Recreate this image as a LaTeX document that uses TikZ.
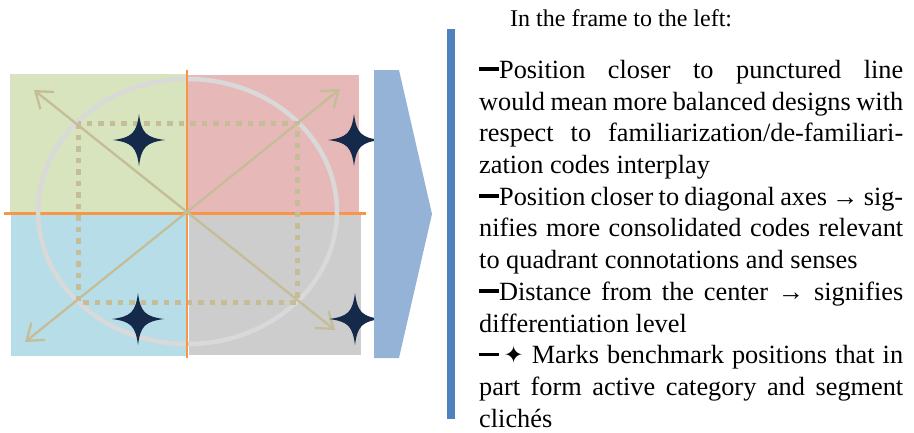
\documentclass[tikz,border=0pt]{standalone}
\usepackage{fontspec}
\setmainfont{Liberation Serif}
\newfontfamily\starfont{DejaVu Sans}
\usetikzlibrary{arrows.meta}
\definecolor{qgreen}{HTML}{D7E4BD}
\definecolor{qred}{HTML}{E6B9B8}
\definecolor{qblue}{HTML}{B7DEE8}
\definecolor{qgray}{HTML}{CDCDCD}
\definecolor{axisc}{HTML}{F79646}
\definecolor{ringc}{HTML}{D9D9D9}
\definecolor{tanc}{HTML}{C4BD97}
\definecolor{starc}{HTML}{15294A}
\definecolor{chevc}{HTML}{95B3D7}
\definecolor{barc}{HTML}{4F81BD}
\tikzset{
  haxis/.style={draw=axisc,line width=3pt},
  vaxis/.style={draw=axisc,line width=2pt},
  ring/.style={draw=ringc,line width=4.5pt},
  frame/.style={draw=tanc,line width=5pt,dash pattern=on 5.5pt off 6pt},
  diag/.style={draw=tanc,line width=2.3pt,<->,>={Straight Barb[length=15pt,width=22pt]}},
  head/.style={anchor=base west,inner sep=0,font=\fontsize{24}{28}\selectfont},
  notes/.style={anchor=north west,inner sep=0,font=\fontsize{26.3}{31.7}\selectfont},
}
\newcommand{\benchstar}[1]{\fill[starc,shift={#1}] (26,0) .. controls (7,2.5) and (2.5,7) .. (0,26) .. controls (-2.5,7) and (-7,2.5) .. (-26,0) .. controls (-7,-2.5) and (-2.5,-7) .. (0,-26) .. controls (2.5,-7) and (7,-2.5) .. cycle;}
\newcommand{\dashmark}{\rule[0.29em]{0.76em}{0.13em}}
\newcommand{\jl}[1]{\makebox[424pt][s]{#1}}

\begin{document}
\begin{tikzpicture}[x=1pt,y=-1pt]
  \useasboundingbox (0,0) rectangle (914,432);
  % quadrants
  \fill[qgreen] (10,74) rectangle (187,212);
  \fill[qred] (188,75) rectangle (359,212);
  \fill[qblue] (11,214) rectangle (187,356);
  \fill[qgray] (189,214) rectangle (361,355);
  \coordinate (w) at (4,213);
  \coordinate (e) at (366,213);
  \coordinate (n) at (187,70);
  \coordinate (s) at (187,358);
  \draw[haxis] (w) -- (e);
  \draw[ring] (187.5,211.5) ellipse [x radius=149.5, y radius=132.5];
  \draw[frame] (78,123) rectangle (297,302);
  \draw[vaxis] (n) -- (s);
  % diagonal axes
  \coordinate (ul) at (34,90);
  \coordinate (lr) at (335,330);
  \coordinate (ur) at (340,89);
  \coordinate (ll) at (25,342);
  \draw[diag] (ul) -- (lr);
  \draw[diag] (ur) -- (ll);
  % benchmark stars
  \foreach \p in {(139,140),(354,140),(138,319),(355,319)} \benchstar{\p};
  \fill[chevc] (374,70) -- (399,70) -- (432,214) -- (399,358) -- (374,358) -- cycle;
  \fill[barc] (447,29) rectangle (455,419);
  \node[head] (head) at (510,26) {In the frame to the left:};
  \node[notes] (notes) at (479,60) {\parbox[t]{424pt}{%
\jl{\dashmark Position closer to punctured line}\\
\jl{would mean more balanced designs with}\\
\jl{respect to familiarization/de-familiari-}\\
zation codes interplay\\
\jl{\dashmark Position closer to diagonal axes → sig-}\\
\jl{nifies more consolidated codes relevant}\\
to quadrant connotations and senses\\
\jl{\dashmark Distance from the center → signifies}\\
differentiation level\\
\jl{\dashmark\,{\starfont\fontsize{24}{24}\selectfont ✦} Marks benchmark positions that in}\\
\jl{part form active category and segment}\\
clichés}};
\end{tikzpicture}
\end{document}
